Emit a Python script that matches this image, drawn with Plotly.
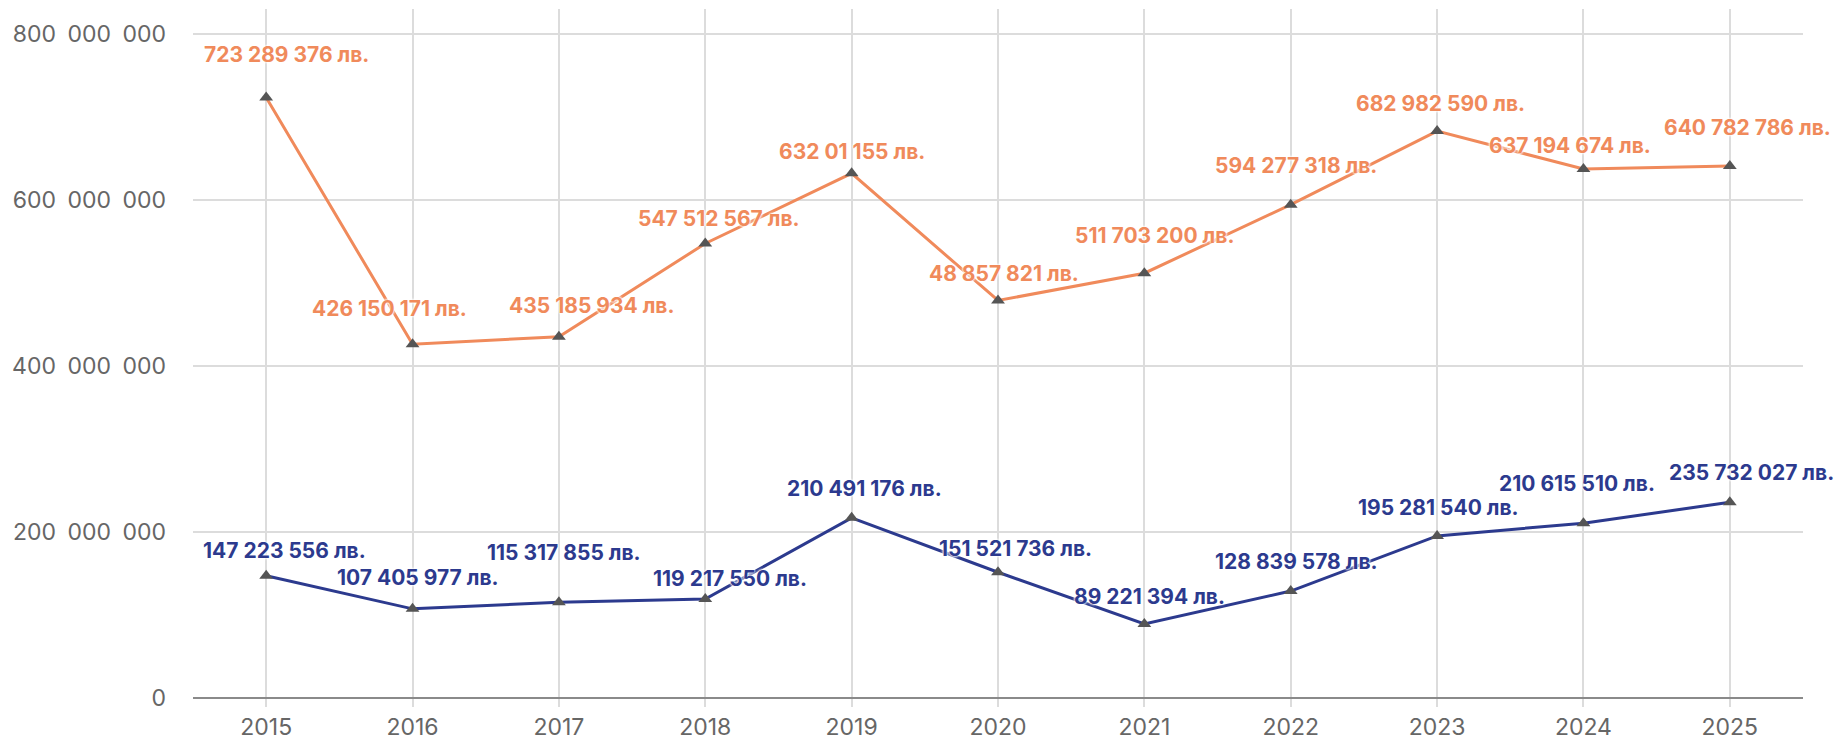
import plotly.graph_objects as go

years = [2015, 2016, 2017, 2018, 2019, 2020, 2021, 2022, 2023, 2024, 2025]

orange_values = [723289376, 426150171, 435185934, 547512567, 632010155, 478857821,
                 511703200, 594277318, 682982590, 637194674, 640782786]
orange_labels = ["723 289 376 лв.", "426 150 171 лв.", "435 185 934 лв.", "547 512 567 лв.",
                 "632 01 155 лв.", "48 857 821 лв.", "511 703 200 лв.", "594 277 318 лв.",
                 "682 982 590 лв.", "637 194 674 лв.", "640 782 786 лв."]

navy_values = [147223556, 107405977, 115317855, 119217550, 217000000, 151521736,
               89221394, 128839578, 195281540, 210615510, 235732027]
navy_labels = ["147 223 556 лв.", "107 405 977 лв.", "115 317 855 лв.", "119 217 550 лв.",
               "210 491 176 лв.", "151 521 736 лв.", "89 221 394 лв.", "128 839 578 лв.",
               "195 281 540 лв.", "210 615 510 лв.", "235 732 027 лв."]

y_tickvals = [0, 200000000, 400000000, 600000000, 800000000]
y_ticktext = ["0", "200\u2002000\u2002000", "400\u2002000\u2002000", "600\u2002000\u2002000", "800\u2002000\u2002000"]

# label pixel offsets (style, not data)
orange_dx = [20, -23, 33, 14, 0, 6, 10, 5, 3, -13, 18]
orange_dy = [43, 36, 31, 25, 22, 27, 38, 39, 28, 24, 39]
navy_dx = [18, 5, 5, 25, 13, 17, 5, 6, 1, -6, 22]
navy_dy = [25, 31, 50, 21, 29, 24, 27, 30, 28, 40, 30]

ORANGE = "#F08A5B"
NAVY = "#2C3A8E"
MARKER = "#555555"
FONT = "Inter"

fig = go.Figure()
for vals, col in [(orange_values, ORANGE), (navy_values, NAVY)]:
    fig.add_trace(go.Scatter(
        x=years, y=vals, mode="lines+markers",
        line=dict(color=col, width=3),
        marker=dict(symbol="triangle-up", size=12, color=MARKER),
        showlegend=False, cliponaxis=False,
    ))

ann = []
halo = "0 0 3px #ffffff, 0 0 3px #ffffff, 0 0 2px #ffffff"
for vals, labs, dxs, dys, col in [(orange_values, orange_labels, orange_dx, orange_dy, ORANGE),
                                   (navy_values, navy_labels, navy_dx, navy_dy, NAVY)]:
    for x, v, t, dx, dy in zip(years, vals, labs, dxs, dys):
        ann.append(dict(x=x, y=v, text=t, showarrow=False, xshift=dx, yshift=dy,
                        xanchor="center", yanchor="middle",
                        font=dict(family=FONT, size=21, color=col, weight="bold", shadow=halo)))

fig.update_layout(
    width=1837, height=740,
    margin=dict(l=193, r=34, t=9, b=42, autoexpand=False),
    paper_bgcolor="white", plot_bgcolor="white",
    annotations=ann,
    xaxis=dict(range=[2014.5, 2025.5], tickmode="array", tickvals=years,
               ticktext=[str(y) for y in years], automargin=False,
               showgrid=True, gridcolor="#dcdcdc", gridwidth=1.5,
               ticks="outside", ticklen=8, tickcolor="#dcdcdc", tickwidth=1.5,
               showline=False, zeroline=False,
               tickfont=dict(family=FONT, size=23, color="#666666")),
    yaxis=dict(range=[0, 830000000], tickmode="array", tickvals=y_tickvals, ticktext=y_ticktext,
               automargin=False,
               showgrid=True, gridcolor="#dcdcdc", gridwidth=1.5,
               zeroline=True, zerolinecolor="#8a8a8a", zerolinewidth=2,
               showline=False, ticks="", ticklabelstandoff=26,
               tickfont=dict(family=FONT, size=23, color="#666666")),
)

fig.write_html("out.html", config={"displayModeBar": False},
               post_script="document.body.style.margin='0';document.body.style.overflow='hidden';")
